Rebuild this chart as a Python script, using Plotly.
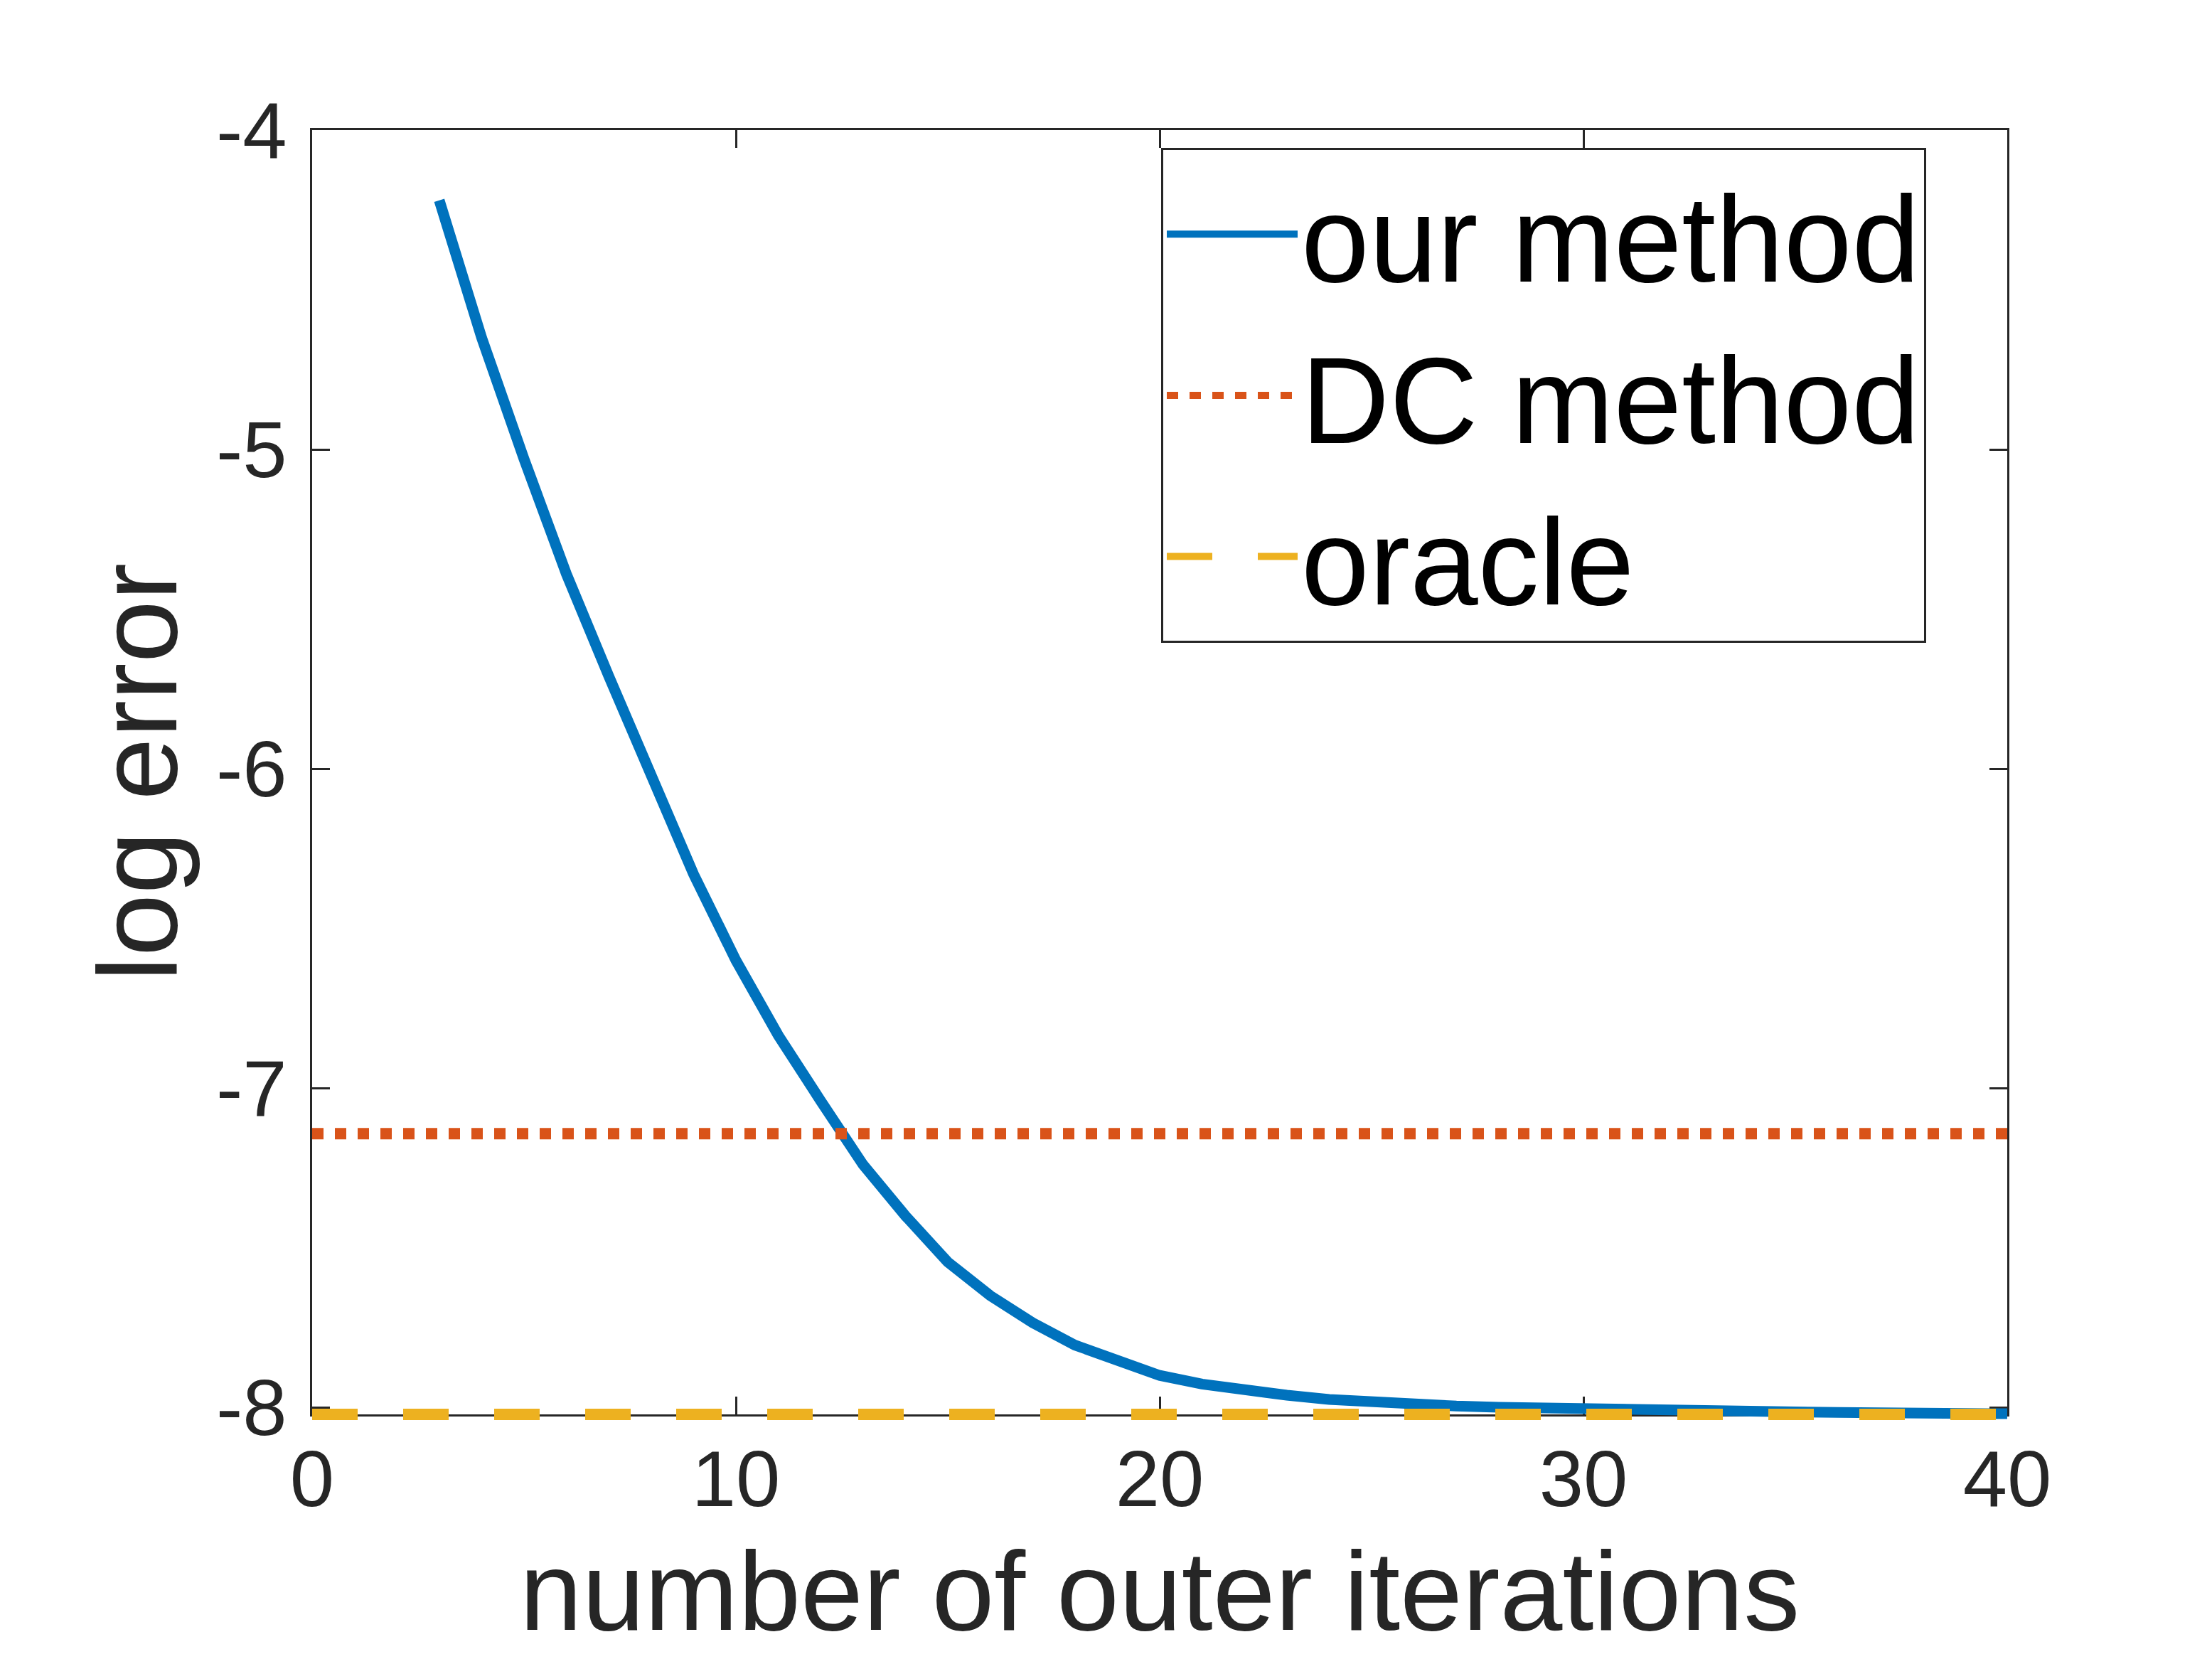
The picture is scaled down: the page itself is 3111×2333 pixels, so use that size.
import plotly.graph_objects as go

# -----------------------------
# Data
# -----------------------------

iters = list(range(3, 41))
our_method = [
    -4.22, -4.65, -5.03, -5.39, -5.71, -6.02, -6.33, -6.60, -6.835, -7.04,
    -7.24, -7.40, -7.545, -7.65, -7.735, -7.805, -7.855, -7.90, -7.927, -7.948,
    -7.962, -7.975, -7.984, -7.991, -7.996, -8.000, -8.003, -8.006, -8.008, -8.010,
    -8.012, -8.014, -8.015, -8.016, -8.017, -8.018, -8.019, -8.020,
]

ref_x = [0, 40]
dc_method = [-7.143, -7.143]
oracle = [-8.022, -8.022]

x_ticks = [0, 10, 20, 30, 40]
y_ticks = [-8, -7, -6, -5, -4]
y_tick_text = ["-8", "-7", "-6", "-5", "-4"]

X_RANGE = [0, 40]
Y_RANGE = [-8.022, -4]

AX = "#262626"
FONT = "Liberation Sans"

# -----------------------------
# Layout geometry (px)
# -----------------------------

W, H = 3111, 2333
PLOT_W, PLOT_H = 2384, 1806   # visible axes box
PAD = 40                      # extra room so lines on the box edge are not clipped
L, T = 431, 175
R = W - L - PLOT_W - PAD
B = H - T - PLOT_H - PAD

# data subplot is a bit larger than the axes box, same scale
x2_range = [X_RANGE[0], X_RANGE[0] + (X_RANGE[1] - X_RANGE[0]) * (PLOT_W + PAD) / PLOT_W]
y2_range = [Y_RANGE[1] - (Y_RANGE[1] - Y_RANGE[0]) * (PLOT_H + PAD) / PLOT_H, Y_RANGE[1]]

fig = go.Figure()

# empty trace so the axes box subplot gets drawn
fig.add_trace(go.Scatter(x=[], y=[], showlegend=False, hoverinfo="skip"))

fig.add_trace(go.Scatter(
    x=iters, y=our_method, mode="lines", name="our method",
    line=dict(color="#0072BD", width=15), xaxis="x2", yaxis="y2",
))
fig.add_trace(go.Scatter(
    x=ref_x, y=dc_method, mode="lines", name="DC method",
    line=dict(color="#D95319", width=16, dash="16px,16px"), xaxis="x2", yaxis="y2",
))
fig.add_trace(go.Scatter(
    x=ref_x, y=oracle, mode="lines", name="oracle",
    line=dict(color="#EDB120", width=16, dash="64px,64px"), xaxis="x2", yaxis="y2",
))

axis_common = dict(
    showline=True, linecolor=AX, linewidth=3, mirror="ticks",
    ticks="inside", ticklen=25, tickwidth=2.5, tickcolor=AX,
    showgrid=False, zeroline=False,
    tickfont=dict(family=FONT, size=112, color=AX),
)

fig.update_layout(
    width=W, height=H,
    margin=dict(l=L, r=R, t=T, b=B),
    plot_bgcolor="rgba(0,0,0,0)", paper_bgcolor="white",
    font=dict(family=FONT),
    xaxis=dict(
        domain=[0, PLOT_W / (PLOT_W + PAD)], anchor="y",
        range=X_RANGE, tickvals=x_ticks, ticklabelstandoff=-8, **axis_common,
        title=dict(text="number of outer iterations",
                   font=dict(family=FONT, size=158, color=AX), standoff=40),
    ),
    yaxis=dict(
        domain=[PAD / (PLOT_H + PAD), 1], anchor="x",
        range=Y_RANGE, tickvals=y_ticks, ticktext=y_tick_text,
        ticklabelstandoff=10, **axis_common,
        title=dict(text="log error",
                   font=dict(family=FONT, size=158, color=AX), standoff=2),
    ),
    xaxis2=dict(domain=[0, 1], anchor="y2", range=x2_range, visible=False),
    yaxis2=dict(domain=[0, 1], anchor="x2", range=y2_range, visible=False),
    legend=dict(
        x=(1625 - L) / (PLOT_W + PAD), y=(T + PLOT_H + PAD - 548) / (PLOT_H + PAD),
        xanchor="left", yanchor="middle",
        bgcolor="white", bordercolor=AX, borderwidth=3,
        font=dict(family=FONT, size=172, color="black"),
        itemwidth=184,
    ),
)

fig.write_html("out.html")
